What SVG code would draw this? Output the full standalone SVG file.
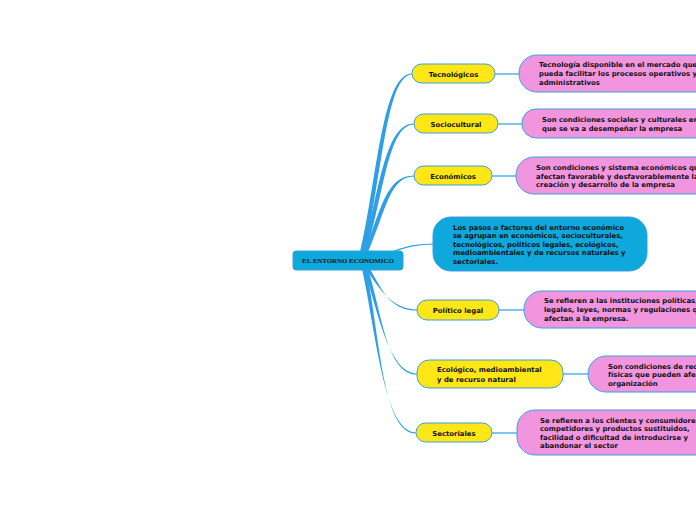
<svg xmlns="http://www.w3.org/2000/svg" width="696" height="520" viewBox="0 0 696 520">
<style>
.yel{fill:#ffe617;stroke:#3d9fdc;stroke-width:1}
.pink{fill:#f295df;stroke:#3d9fdc;stroke-width:1}
.blue{fill:#0fa8dc;stroke:#3d9fdc;stroke-width:1}
.t{font-family:"DejaVu Sans",Verdana,sans-serif;font-weight:bold;font-size:6.9px;fill:#111}
.lnk{fill:none;stroke:#2e9fe6;stroke-width:1.2}
.tap{fill:#2e9fe6}
</style>
<rect width="696" height="520" fill="#ffffff"/>
<g id="connectors">
<path class="tap" d="M360,252 C377,180 382,73.4 412,73.4 L412,74.6 C386,74.6 382,180 364,252 Z"/>
<path class="tap" d="M362,252 C379,195 384,123.4 414,123.4 L414,124.6 C388,124.6 384,195 366,252 Z"/>
<path class="tap" d="M364,252 C381,210 386,175.4 414,175.4 L414,176.6 C390,176.6 386,210 368,252 Z"/>
<path class="tap" d="M366,269 C381,292 394,309.4 417,309.4 L417,310.6 C392,310.6 384,294 370,269 Z"/>
<path class="tap" d="M364,269 C378,312 389,373.4 417,373.4 L417,374.6 C387,374.6 382,314 368,269 Z"/>
<path class="tap" d="M362,269 C376,332 384,432.4 416,432.4 L416,433.6 C382,433.6 380,334 366,269 Z"/>
<path class="lnk" d="M394,251 C410,246 418,244 434,244"/>
<path class="lnk" d="M495,74 L519,74"/>
<path class="lnk" d="M498,124 L522,124"/>
<path class="lnk" d="M492,176 L516,176"/>
<path class="lnk" d="M499,310 L524,310"/>
<path class="lnk" d="M563,374 L588,374"/>
<path class="lnk" d="M492,433 L517,433"/>
</g>
<g id="root">
<rect x="293" y="251" width="110" height="19" rx="3" class="blue"/>
<text x="348" y="263" text-anchor="middle" style="font-family:'Liberation Serif','Times New Roman',serif;font-weight:bold;font-size:6.9px;fill:#111">EL ENTORNO ECONOMICO</text>
</g>
<g id="n-tecnologicos">
<rect x="412" y="64" width="83" height="19" rx="9.5" class="yel"/>
<text x="453.5" y="76.5" text-anchor="middle" class="t">Tecnológicos</text>
</g>
<g id="n-sociocultural">
<rect x="414" y="114" width="84" height="19" rx="9.5" class="yel"/>
<text x="456" y="126.5" text-anchor="middle" class="t">Sociocultural</text>
</g>
<g id="n-economicos">
<rect x="414" y="166" width="78" height="19" rx="9.5" class="yel"/>
<text x="453" y="178.5" text-anchor="middle" class="t">Económicos</text>
</g>
<g id="n-politico">
<rect x="417" y="300" width="82" height="20" rx="10" class="yel"/>
<text x="458" y="312.8" text-anchor="middle" class="t">Político legal</text>
</g>
<g id="n-ecologico">
<rect x="417" y="360" width="146" height="28" rx="12" class="yel"/>
<text class="t"><tspan x="437" y="372">Ecológico, medioambiental</tspan><tspan x="437" y="381.5">y de recurso natural</tspan></text>
</g>
<g id="n-sectoriales">
<rect x="416" y="423" width="76" height="19" rx="9.5" class="yel"/>
<text x="454" y="435.5" text-anchor="middle" class="t">Sectoriales</text>
</g>
<g id="d-tecnologicos">
<rect x="519" y="55" width="200" height="37" rx="18" class="pink"/>
<text class="t"><tspan x="539" y="67">Tecnología disponible en el mercado que</tspan><tspan x="539" y="76">pueda facilitar los procesos operativos y</tspan><tspan x="539" y="84.5">administrativos</tspan></text>
</g>
<g id="d-sociocultural">
<rect x="522" y="109" width="200" height="29" rx="14" class="pink"/>
<text class="t"><tspan x="542" y="121.5">Son condiciones sociales y culturales en</tspan><tspan x="542" y="130.5">que se va a desempeñar la empresa</tspan></text>
</g>
<g id="d-economicos">
<rect x="516" y="157" width="200" height="37" rx="18" class="pink"/>
<text class="t"><tspan x="536" y="170">Son condiciones y sistema económicos que</tspan><tspan x="536" y="178.5">afectan favorable y desfavorablemente la</tspan><tspan x="536" y="187">creación y desarrollo de la empresa</tspan></text>
</g>
<g id="d-general">
<rect x="433" y="217" width="214" height="54" rx="18" class="blue"/>
<text class="t"><tspan x="453" y="229.5">Los pasos o factores del entorno económico</tspan><tspan x="453" y="238">se agrupan en económicos, socioculturales,</tspan><tspan x="453" y="246.5">tecnológicos, políticos legales, ecológicos,</tspan><tspan x="453" y="255">medioambientales y de recursos naturales y</tspan><tspan x="453" y="263.5">sectoriales.</tspan></text>
</g>
<g id="d-politico">
<rect x="524" y="291" width="200" height="37" rx="18" class="pink"/>
<text class="t"><tspan x="544" y="303">Se refieren a las instituciones políticas,</tspan><tspan x="544" y="312">legales, leyes, normas y regulaciones que</tspan><tspan x="544" y="320.5">afectan a la empresa.</tspan></text>
</g>
<g id="d-ecologico">
<rect x="588" y="356" width="200" height="36" rx="18" class="pink"/>
<text class="t"><tspan x="608" y="368.5">Son condiciones de recursos</tspan><tspan x="608" y="377">físicas que pueden afectar la</tspan><tspan x="608" y="385.5">organización</tspan></text>
</g>
<g id="d-sectoriales">
<rect x="517" y="410" width="200" height="45" rx="18" class="pink"/>
<text class="t"><tspan x="540" y="422.5">Se refieren a los clientes y consumidores,</tspan><tspan x="540" y="431">competidores y productos sustituidos,</tspan><tspan x="540" y="439.5">facilidad o dificultad de introducirse y</tspan><tspan x="540" y="448">abandonar el sector</tspan></text>
</g>
</svg>
